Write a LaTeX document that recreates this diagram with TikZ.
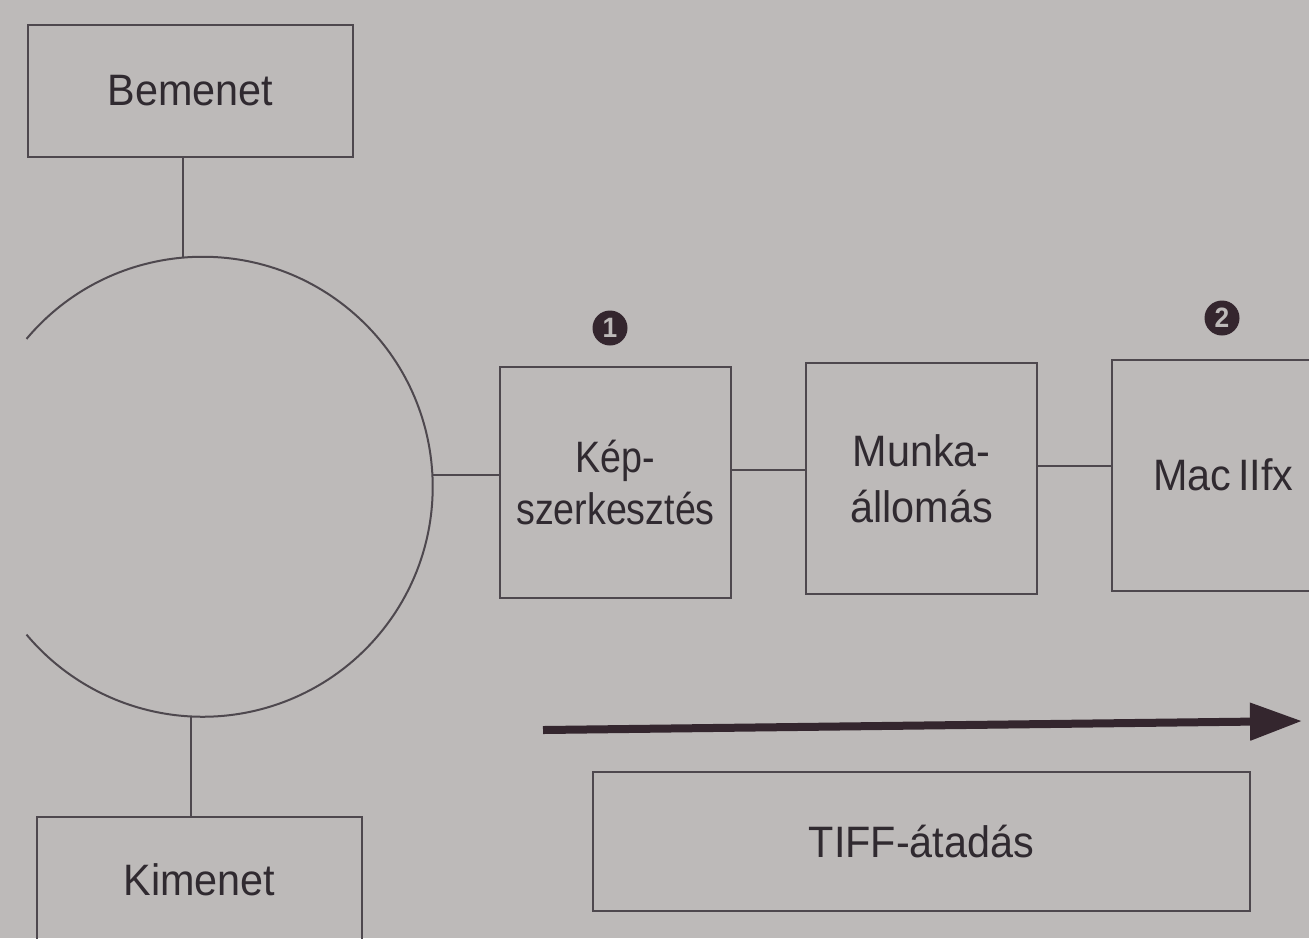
\documentclass[tikz,border=0pt]{standalone}
\usepackage{fontspec}
\setmainfont[FakeStretch=0.94]{Liberation Sans}
\newfontfamily\narrowfont[FakeStretch=0.855]{Liberation Sans}
\usetikzlibrary{arrows.meta}
\definecolor{paper}{RGB}{189,186,185}
\definecolor{ink}{RGB}{78,72,78}
\definecolor{txt}{RGB}{48,42,48}
\definecolor{arr}{RGB}{52,38,46}
\tikzset{
  box/.style={draw=ink, line width=1pt, text=txt, inner sep=0pt, align=center,
    font=\fontsize{22}{26.5}\selectfont},
  wire/.style={draw=ink, line width=1pt},
  numdot/.style={circle, fill=arr, text=paper, inner sep=0pt, minimum size=17.5pt,
    font=\fontsize{14}{14}\selectfont\bfseries},
}
\begin{document}
\begin{tikzpicture}[x=0.5pt,y=-0.5pt]
\fill[paper] (0,0) rectangle (1309,938);
\useasboundingbox (0,0) rectangle (1309,938);
\begin{scope}
\clip (0,0) rectangle (1309,938);
% boxes
\node[box, minimum width=162.5pt, minimum height=66pt] (bem) at (190.5,91) {Bemenet};
\node[box, minimum width=162.5pt, minimum height=70pt] (kim) at (199.5,887) {};
\node[text=txt, font=\fontsize{22}{26.5}\selectfont] (kimt) at (199.5,880) {Kimenet};
\node[box, minimum width=115.5pt, minimum height=115.5pt, font=\fontsize{22}{26}\narrowfont] (kep) at (615.5,482.5) {Kép-\\szerkesztés};
\node[box, minimum width=115.5pt, minimum height=115.5pt, font=\fontsize{22}{28}\selectfont] (mun) at (921.5,478.5) {Munka-\\állomás};
\node[box, minimum width=115.5pt, minimum height=115.5pt, text width=115.5pt] (mac) at (1227.5,475) {\hspace*{-4pt}Mac\hspace{3.5pt}IIfx};
\node[box, minimum width=328.5pt, minimum height=69.5pt] (tiff) at (921.5,841.5) {TIFF-átadás};
% ring (invisible node, arc drawn)
\node[circle, minimum size=230pt, inner sep=0pt] (ring) at (203,487) {};
\draw[wire] (ring.140) arc[start angle=140, end angle=-140, radius=115pt];
% connectors
\draw[wire] (ring.95) -- (ring.95 |- bem.south);
\draw[wire] (ring.267) -- (ring.267 |- kim.north);
\coordinate (c2) at (0,470);
\coordinate (c3) at (0,466);
\draw[wire] (ring.3) -- (ring.3 -| kep.west);
\draw[wire] (kep.east |- c2) -- (mun.west |- c2);
\draw[wire] (mun.east |- c3) -- (mac.west |- c3);
% markers
\node[numdot] (m1) at (610,328) {1};
\node[numdot] (m2) at (1222,318) {2};
% arrow
\coordinate (a0) at (543,730);
\coordinate (a1) at (1302,721);
\draw[arr, line width=4pt, -{Triangle[length=26pt,width=18pt]}] (a0) -- (a1);
\end{scope}
\end{tikzpicture}
\end{document}
